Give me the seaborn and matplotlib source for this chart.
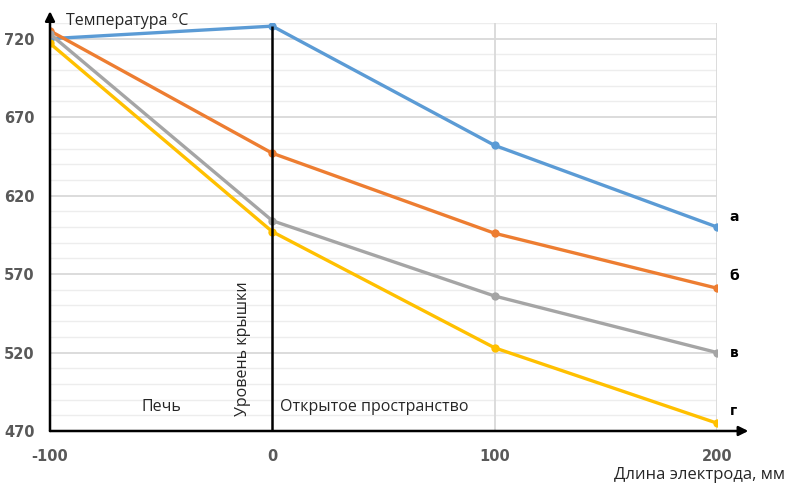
import numpy as np
import pandas as pd
import matplotlib
matplotlib.use("Agg")
import matplotlib.pyplot as plt
import seaborn as sns

# Data
lengths = [-100, 0, 100, 200]
curve_a = [720, 728, 652, 600]
curve_b = [725, 647, 596, 561]
curve_v = [723, 604, 556, 520]
curve_g = [717, 597, 523, 475]
curve_names = ["а", "б", "в", "г"]
curve_colors = ["#5B9BD5", "#ED7D31", "#A5A5A5", "#FFC000"]
y_ticks = [470, 520, 570, 620, 670, 720]
x_ticks = [-100, 0, 100, 200]

rows = []
for name, vals in zip(curve_names, [curve_a, curve_b, curve_v, curve_g]):
    for x, t in zip(lengths, vals):
        rows.append({"x": x, "t": t, "curve": name})
df = pd.DataFrame(rows)

sns.set_style("white")
plt.rcParams['font.family'] = ['Open Sans', 'DejaVu Sans']
plt.rcParams['axes.unicode_minus'] = False

fig = plt.figure(figsize=(7.87, 4.83), dpi=100)
ax = fig.add_axes([50 / 787, 52 / 483, 667 / 787, 408 / 483])

# Grid (Excel style: major every 50, minor every 10)
for yv in np.arange(470, 731, 10):
    if yv in y_ticks:
        ax.axhline(yv, color="#D9D9D9", lw=1.3, zorder=0)
    else:
        ax.axhline(yv, color="#EDEDED", lw=1.0, zorder=0)
for xv in [100, 200]:
    ax.axvline(xv, color="#D9D9D9", lw=1.3, zorder=0)

sns.lineplot(data=df, x="x", y="t", hue="curve", palette=curve_colors,
             marker="o", markersize=6, markeredgewidth=0, linewidth=2.4,
             legend=False, ax=ax, zorder=3)

# lid level line
ax.vlines(0, 470, curve_a[1], color="black", lw=1.8, zorder=4)

ax.set_xlim(-100, 200)
ax.set_ylim(470, 730)
ax.set_xticks(x_ticks)
ax.set_yticks(y_ticks)
ax.tick_params(length=0, labelsize=10.5, labelcolor="#595959")
ax.tick_params(axis="x", pad=13)
ax.tick_params(axis="y", pad=11)
for lab in ax.get_xticklabels() + ax.get_yticklabels():
    lab.set_fontweight("bold")
    lab.set_family(["DejaVu Sans"])
ax.set_xlabel("")
ax.set_ylabel("")
for s in ax.spines.values():
    s.set_visible(False)

# axis arrows
ax.annotate("", xy=(1.047, 0), xytext=(0, 0), xycoords="axes fraction",
            arrowprops=dict(arrowstyle="-|>", color="black", lw=1.8,
                            mutation_scale=14, shrinkA=0, shrinkB=0),
            annotation_clip=False, zorder=5)
ax.annotate("", xy=(0, 1.029), xytext=(0, 0), xycoords="axes fraction",
            arrowprops=dict(arrowstyle="-|>", color="black", lw=1.8,
                            mutation_scale=14, shrinkA=0, shrinkB=0),
            annotation_clip=False, zorder=5)

# curve labels
label_dy = [7, 8.5, 0, 8.5]
for name, vals, dy in zip(curve_names, [curve_a, curve_b, curve_v, curve_g], label_dy):
    ax.annotate(name, xy=(lengths[-1], vals[-1]), xytext=(9, dy),
                textcoords="offset points", ha="left", va="center",
                fontsize=10, fontweight="bold", color="black",
                family=["DejaVu Sans"], annotation_clip=False)

ax.text(-50, 485, "Печь", ha="center", va="center", fontsize=11.5)
ax.text(3.5, 485, "Открытое пространство", ha="left", va="center", fontsize=11.5)
ax.text(-13, 479.5, "Уровень крышки", rotation=90, ha="center", va="bottom", fontsize=11.5)

fig.text(66 / 787, 1 - 21 / 483, "Температура °C", ha="left", va="center", fontsize=11.5)
fig.text(785 / 787, 1 - 475 / 483, "Длина электрода, мм", ha="right", va="center", fontsize=12)

fig.savefig("out.png", dpi=100)
